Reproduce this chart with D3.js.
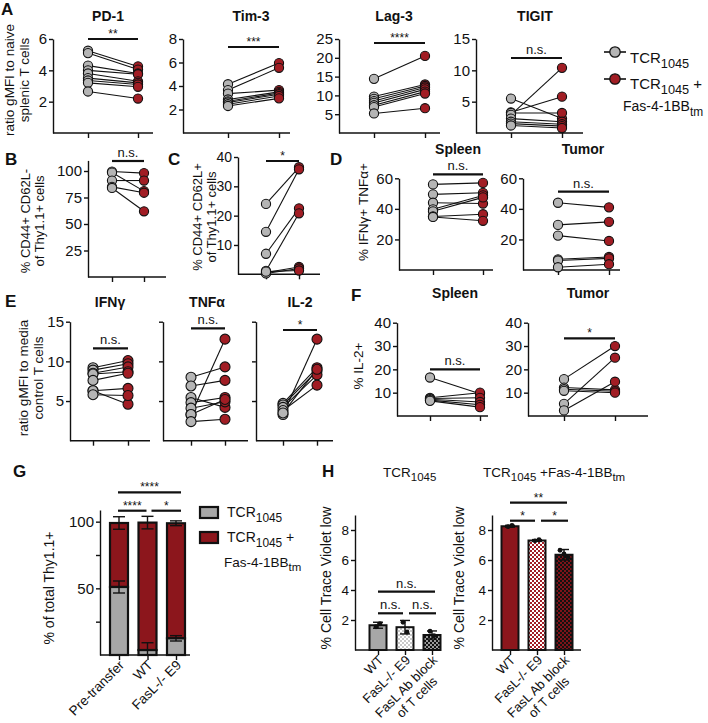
<!DOCTYPE html>
<html>
<head>
<meta charset="utf-8">
<script src="https://cdn.jsdelivr.net/npm/d3@7/dist/d3.min.js"></script>
<style>
  body { margin: 0; background: #fff; }
  svg text { font-family: "Liberation Sans", Arial, Helvetica, sans-serif; fill: #111; }
</style>
</head>
<body>
<svg id="fig" width="708" height="723"></svg>
<script>
// ---------- data ----------
const groups = ["TCR1045", "TCR1045+Fas-4-1BBtm"];

// A: ratio gMFI to naive splenic T cells
const aMarkers = ["PD-1", "Tim-3", "Lag-3", "TIGIT"];
const aMax = [6, 8, 25, 15];
const aTicks = [[2, 4, 6], [2, 4, 6, 8], [5, 10, 15, 20, 25], [5, 10, 15]];
const aSig = ["**", "***", "****", "n.s."];
const pd1Tcr = [5.25, 5.1, 4.3, 4.0, 3.8, 3.5, 3.35, 3.2, 2.65];
const pd1Fas = [4.25, 4.05, 3.8, 3.75, 3.3, 3.2, 3.1, 2.95, 2.2];
const tim3Tcr = [4.15, 3.65, 3.35, 2.85, 2.7, 2.6, 2.45, 2.3];
const tim3Fas = [5.95, 5.55, 3.65, 3.5, 3.4, 3.3, 3.15, 2.95];
const lag3Tcr = [14.4, 9.7, 9.1, 8.5, 8.0, 7.4, 6.9, 5.2];
const lag3Fas = [20.5, 12.9, 12.5, 12.1, 11.6, 11.0, 10.5, 6.6];
const tigitTcr = [5.5, 3.3, 3.2, 2.9, 2.3, 1.8, 1.5, 1.2];
const tigitFas = [2.3, 5.8, 3.2, 10.4, 1.8, 1.4, 1.1, 0.8];

// B, C: % of Thy1.1+ cells
const bTicks = [25, 50, 75, 100];
const bTcr = [99.5, 98.5, 91, 85, 84];
const bFas = [98, 81, 91, 79.5, 62];
const cTicks = [10, 20, 30, 40];
const cTcr = [24, 14.5, 7, 1.2, 0.6, 0.3, 0.9];
const cFas = [36.5, 35.8, 22.5, 20.8, 2.5, 2.0, 1.3];

// D: % IFNg+ TNFa+
const dTicks = [20, 40, 60];
const dSpleenTcr = [56, 49.5, 44, 39.7, 38.4, 35, 34.7];
const dSpleenFas = [57, 50.5, 43.5, 48.8, 47.5, 36.5, 32.2];
const dTumorTcr = [44, 29.5, 22.5, 7.0, 6.2, 1.8];
const dTumorFas = [41, 31.5, 19, 8.5, 7.6, 3.8];

// E: ratio gMFI to media control T cells
const eCytokines = ["IFNγ", "TNFα", "IL-2"];
const eTicks = [5, 10, 15];
const eSig = ["n.s.", "n.s.", "*"];
const ifngTcr = [9.2, 8.9, 8.5, 8.4, 7.6, 6.3, 6.3, 5.8];
const ifngFas = [10.1, 9.7, 9.3, 8.7, 8.5, 6.6, 4.6, 5.7];
const tnfaTcr = [8.0, 6.9, 5.45, 4.8, 4.1, 3.3, 3.3, 2.4];
const tnfaFas = [9.3, 7.6, 4.2, 5.45, 4.9, 12.8, 5.2, 2.7];
const il2Tcr = [4.7, 4.5, 4.2, 3.8, 3.3, 3.5];
const il2Fas = [9.2, 8.8, 8.3, 7.0, 12.8, 9.0];

// F: % IL-2+
const fTicks = [10, 20, 30, 40];
const fSpleenTcr = [16.5, 7.8, 7.5, 7.2, 6.8, 6.5];
const fSpleenFas = [9.5, 10.0, 7.8, 6.0, 4.8, 3.8];
const fTumorTcr = [15.8, 12.2, 11.5, 10.8, 5.2, 2.4];
const fTumorFas = [30, 11.2, 10.6, 10.0, 25, 14.7];

// G: % of total Thy1.1+
const gCats = ["Pre-transfer", "WT", "FasL-/- E9"];
const gTicks = [25, 50, 75, 100];
const gTcrMean = [51, 3.7, 12.5];
const gTcrSem = [4.5, 5.5, 2];
const gTotalMean = [99, 99.3, 98.8];
const gTotalSem = [4.7, 4.7, 1.8];
const gSig = [["Pre-transfer", "FasL-/- E9", "****"], ["Pre-transfer", "WT", "****"], ["WT", "FasL-/- E9", "*"]];

// H: % Cell Trace Violet low
const hCats = ["WT", "FasL-/- E9", "FasL Ab block\nof T cells"];
const hTicks = [2, 4, 6, 8];
const hTcrMean = [1.65, 1.52, 1.0];
const hTcrSd = [0.2, 0.45, 0.27];
const hTcrDots = [[1.55, 1.75], [1.85, 1.2], [1.25, 0.95]];
const hFasMean = [8.25, 7.3, 6.35];
const hFasSd = [0.06, 0.06, 0.35];
const hFasDots = [[8.22, 8.3], [7.28, 7.35], [6.65, 6.4, 6.15]];
const hTcrSig = ["n.s.", "n.s.", "n.s."];
const hFasSig = ["**", "*", "*"];

// ---------- drawing ----------
const svg = d3.select("#fig");
const GRAY = "#b5b5b5", RED = "#a11d24";
const BAR_GRAY = "#a7a7a7", BAR_RED = "#8c161c";
const INK = "#111";

function styleAxis(sel, size) {
  sel.selectAll("path, line").attr("stroke", INK).attr("stroke-width", 1.4);
  sel.selectAll("text").attr("font-size", size).attr("fill", "#222");
}

function label(x, y, s, opt = {}) {
  return svg.append("text").attr("x", x).attr("y", y)
    .attr("font-size", opt.size || 13)
    .attr("font-weight", opt.bold ? "bold" : null)
    .attr("text-anchor", opt.anchor || "middle")
    .text(s);
}

// text with subscripts: segments [{t, sub}]
function rich(x, y, segs, size, anchor) {
  const t = svg.append("text").attr("x", x).attr("y", y)
    .attr("font-size", size).attr("text-anchor", anchor || "start");
  let down = false;
  segs.forEach(s => {
    const dy = s.sub && !down ? size * 0.33 : (!s.sub && down ? -size * 0.33 : 0);
    t.append("tspan").attr("dy", dy).attr("font-size", s.sub ? size * 0.85 : size).text(s.t);
    down = !!s.sub;
  });
  return t;
}

function yTitle(x, y, lines, size, gap) {
  lines.forEach((s, i) => {
    svg.append("text")
      .attr("transform", `translate(${x + i * (gap || size * 1.08)},${y}) rotate(-90)`)
      .attr("text-anchor", "middle").attr("font-size", size).text(s);
  });
}

function sigBar(x1, x2, y, s, size) {
  svg.append("line").attr("x1", x1).attr("x2", x2).attr("y1", y).attr("y2", y)
    .attr("stroke", INK).attr("stroke-width", 2.2);
  const star = s !== "n.s.";
  label((x1 + x2) / 2, star ? y - 1 : y - 4, s, { size: size || (star ? 12 : 13) });
}

function pairPlot(L, d) {
  const y = d3.scaleLinear().domain([0, d.max]).range([L.bottom, L.top]);
  const x = d3.scalePoint().domain(groups).range([L.xa, L.xb]);
  const g = svg.append("g");
  g.append("g").attr("transform", `translate(${L.ax},0)`)
    .call(d3.axisLeft(y).tickValues(d.ticks).tickSize(4).tickSizeOuter(0).tickPadding(2)
      .tickFormat(L.noLabels ? "" : d3.format("d")))
    .call(styleAxis, L.tick || 15);
  g.append("line").attr("x1", L.ax).attr("x2", L.right).attr("y1", L.bottom).attr("y2", L.bottom)
    .attr("stroke", INK).attr("stroke-width", 1.4);
  g.append("g").attr("transform", `translate(0,${L.bottom})`)
    .call(d3.axisBottom(x).tickSize(5).tickFormat(""))
    .call(a => a.select(".domain").remove())
    .call(styleAxis, 10);

  const pairs = d.tcr.map((v, i) => ({ a: v, b: d.fas[i] }));
  g.selectAll("line.pair").data(pairs).join("line").attr("class", "pair")
    .attr("x1", x(groups[0])).attr("x2", x(groups[1]))
    .attr("y1", p => y(p.a)).attr("y2", p => y(p.b))
    .attr("stroke", INK).attr("stroke-width", 1.1);
  const pts = pairs.flatMap(p => [{ k: 0, v: p.a }, { k: 1, v: p.b }]);
  g.selectAll("circle").data(pts).join("circle")
    .attr("cx", p => x(groups[p.k])).attr("cy", p => y(p.v)).attr("r", L.r || 4.6)
    .attr("fill", p => p.k ? RED : GRAY).attr("stroke", INK).attr("stroke-width", 1.1);

  sigBar(x(groups[0]), x(groups[1]), L.sigY, d.sig);
  if (d.title) label(L.tx, L.ty, d.title, { size: 14, bold: true });
}

// panel letters
[["A", 1, 15], ["B", 5, 165], ["C", 168, 165], ["D", 330, 165], ["E", 5, 307],
 ["F", 351, 301], ["G", 13, 477], ["H", 322, 477]]
  .forEach(([s, x, y]) => label(x, y, s, { size: 17, bold: true, anchor: "start" }));

// ----- A -----
const aLayout = [
  { ax: 53, right: 153, xa: 88, xb: 138, sigY: 39, tx: 108 },
  { ax: 183, right: 290, xa: 228, xb: 279, sigY: 47, tx: 251 },
  { ax: 339, right: 440, xa: 374, xb: 425, sigY: 43, tx: 394 },
  { ax: 476, right: 583, xa: 511, xb: 562, sigY: 58, tx: 535 }
];
const aTcr = [pd1Tcr, tim3Tcr, lag3Tcr, tigitTcr];
const aFas = [pd1Fas, tim3Fas, lag3Fas, tigitFas];
aLayout.forEach((L, i) => pairPlot(Object.assign({ top: 39, bottom: 133, ty: 21 }, L),
  { max: aMax[i], ticks: aTicks[i], tcr: aTcr[i], fas: aFas[i], sig: aSig[i], title: aMarkers[i] }));
yTitle(14, 80, ["ratio gMFI to naive", "splenic T cells"], 13.5);

// legend A
[[GRAY, 52], [RED, 79]].forEach(([c, y]) => {
  svg.append("line").attr("x1", 604).attr("x2", 626).attr("y1", y).attr("y2", y)
    .attr("stroke", INK).attr("stroke-width", 1.6);
  svg.append("circle").attr("cx", 615).attr("cy", y).attr("r", 5.2)
    .attr("fill", c).attr("stroke", INK).attr("stroke-width", 1.3);
});
rich(630, 63, [{ t: "TCR" }, { t: "1045", sub: true }], 15);
rich(630, 89, [{ t: "TCR" }, { t: "1045", sub: true }, { t: " +" }], 15);
rich(623, 111, [{ t: "Fas-4-1BB" }, { t: "tm", sub: true }], 14);

// ----- B, C -----
pairPlot({ ax: 88, right: 166, xa: 112, xb: 144, top: 160.4, bottom: 277, sigY: 161 },
  { max: 110, ticks: bTicks, tcr: bTcr, fas: bFas, sig: "n.s." });
yTitle(30, 221, ["% CD44+ CD62L-", "of Thy1.1+ cells"], 13, 13.5);
pairPlot({ ax: 238, right: 320, xa: 266, xb: 299, top: 157, bottom: 274.3, sigY: 161, tick: 14 },
  { max: 40, ticks: cTicks, tcr: cTcr, fas: cFas, sig: "*" });
yTitle(202, 217, ["% CD44+ CD62L+", "of Thy1.1+ cells"], 13, 13.5);

// ----- D -----
pairPlot({ ax: 399, right: 493, xa: 433, xb: 483, top: 178.3, bottom: 270, sigY: 174.3, tx: 458, ty: 154 },
  { max: 60, ticks: dTicks, tcr: dSpleenTcr, fas: dSpleenFas, sig: "n.s.", title: "Spleen" });
pairPlot({ ax: 523, right: 620, xa: 558, xb: 609, top: 178.3, bottom: 270, sigY: 191.7, tx: 583, ty: 154 },
  { max: 60, ticks: dTicks, tcr: dTumorTcr, fas: dTumorFas, sig: "n.s.", title: "Tumor" });
yTitle(368, 212, ["% IFNγ+ TNFα+"], 13.5);

// ----- E -----
const eLayout = [
  { ax: 70, right: 150, xa: 93, xb: 128, sigY: 348.3, tx: 110 },
  { ax: 163, right: 248, xa: 191, xb: 225, sigY: 328.3, tx: 207, noLabels: true },
  { ax: 256, right: 333, xa: 283, xb: 317, sigY: 330, tx: 300, noLabels: true }
];
const eTcr = [ifngTcr, tnfaTcr, il2Tcr];
const eFas = [ifngFas, tnfaFas, il2Fas];
eLayout.forEach((L, i) => pairPlot(Object.assign({ top: 321.7, bottom: 440.7, ty: 307, r: 5 }, L),
  { max: 15, ticks: eTicks, tcr: eTcr[i], fas: eFas[i], sig: eSig[i], title: eCytokines[i] }));
yTitle(28, 378, ["ratio gMFI to media", "control T cells"], 13.5);

// ----- F -----
pairPlot({ ax: 397, right: 488, xa: 430, xb: 480, top: 322.7, bottom: 416, sigY: 369.3, tx: 455, ty: 298 },
  { max: 40, ticks: fTicks, tcr: fSpleenTcr, fas: fSpleenFas, sig: "n.s.", title: "Spleen" });
pairPlot({ ax: 528, right: 648, xa: 564, xb: 615, top: 322.7, bottom: 416, sigY: 338.3, tx: 588, ty: 298 },
  { max: 40, ticks: fTicks, tcr: fTumorTcr, fas: fTumorFas, sig: "*", title: "Tumor" });
yTitle(363, 366, ["% IL-2+"], 13.5);

// rotated category labels (second line centred under the first)
function rotLabels(xs, cats, y, size) {
  cats.forEach(c => {
    const lines = c.split("\n");
    const g = svg.append("g").attr("transform", `translate(${xs(c) + 6},${y}) rotate(-45)`);
    const t1 = g.append("text").attr("text-anchor", "end").attr("font-size", size).text(lines[0]);
    if (lines[1]) {
      const w = t1.node().getComputedTextLength();
      g.append("text").attr("x", -w / 2).attr("y", size * 1.15).attr("text-anchor", "middle")
        .attr("font-size", size).text(lines[1]);
    }
  });
}

function errBar(x, y, lo, hi, cap) {
  svg.append("line").attr("x1", x).attr("x2", x).attr("y1", y(lo)).attr("y2", y(hi))
    .attr("stroke", INK).attr("stroke-width", 1.4);
  [lo, hi].forEach(v => svg.append("line").attr("x1", x - cap / 2).attr("x2", x + cap / 2)
    .attr("y1", y(v)).attr("y2", y(v)).attr("stroke", INK).attr("stroke-width", 1.4));
}

// ----- G -----
{
  const y = d3.scaleLinear().domain([0, 108.75]).range([655, 510]);
  const x = d3.scalePoint().domain(gCats).range([119, 176]);
  const bw = 18;
  svg.append("g").attr("transform", "translate(100,0)")
    .call(d3.axisLeft(y).tickValues(gTicks).tickSize(4).tickSizeOuter(0).tickPadding(2)
      .tickFormat(v => v % 50 === 0 ? v : ""))
    .call(styleAxis, 15);
  svg.append("line").attr("x1", 100).attr("x2", 190).attr("y1", 655).attr("y2", 655)
    .attr("stroke", INK).attr("stroke-width", 1.4);
  svg.append("g").attr("transform", "translate(0,655)")
    .call(d3.axisBottom(x).tickSize(5).tickFormat(""))
    .call(a => a.select(".domain").remove()).call(styleAxis, 10);
  gCats.forEach((c, i) => {
    svg.append("rect").attr("x", x(c) - bw / 2).attr("width", bw)
      .attr("y", y(gTotalMean[i])).attr("height", y(gTcrMean[i]) - y(gTotalMean[i]))
      .attr("fill", BAR_RED).attr("stroke", INK).attr("stroke-width", 2.2);
    svg.append("rect").attr("x", x(c) - bw / 2).attr("width", bw)
      .attr("y", y(gTcrMean[i])).attr("height", y(0) - y(gTcrMean[i]))
      .attr("fill", BAR_GRAY).attr("stroke", INK).attr("stroke-width", 2.2);
    errBar(x(c), y, gTotalMean[i] - gTotalSem[i], gTotalMean[i] + gTotalSem[i], 12);
    errBar(x(c), y, Math.max(0, gTcrMean[i] - gTcrSem[i]), gTcrMean[i] + gTcrSem[i], 12);
  });
  const rows = [492.3, 510.7, 510.7];
  gSig.forEach(([a, b, s], k) => {
    const ia = gCats.indexOf(a), ib = gCats.indexOf(b);
    const x1 = x(a) + (ib - ia === 1 && ia === 1 ? 4 : -1);
    const x2 = x(b) + (ib - ia === 1 && ia === 0 ? -1 : 5);
    sigBar(x1, x2, rows[k], s, 12);
  });
  rotLabels(x, gCats, 666, 13.5);
  yTitle(54, 588, ["% of total Thy1.1+"], 14);

  // legend
  [[BAR_GRAY, 507], [BAR_RED, 532]].forEach(([c, yy]) =>
    svg.append("rect").attr("x", 200).attr("y", yy).attr("width", 18).attr("height", 11)
      .attr("fill", c).attr("stroke", INK).attr("stroke-width", 2.2));
  rich(227, 517, [{ t: "TCR" }, { t: "1045", sub: true }], 14);
  rich(227, 542, [{ t: "TCR" }, { t: "1045", sub: true }, { t: " +" }], 14);
  rich(224, 567, [{ t: "Fas-4-1BB" }, { t: "tm", sub: true }], 13.5);
}

// ----- H -----
const defs = svg.append("defs");
function checker(id, a, b) {
  const p = defs.append("pattern").attr("id", id).attr("width", 4).attr("height", 4)
    .attr("patternUnits", "userSpaceOnUse");
  p.append("rect").attr("width", 4).attr("height", 4).attr("fill", b);
  p.append("rect").attr("width", 2).attr("height", 2).attr("fill", a);
  p.append("rect").attr("x", 2).attr("y", 2).attr("width", 2).attr("height", 2).attr("fill", a);
}
checker("chkLight", "#c9c9c9", "#ffffff");
checker("chkDark", "#111111", "#9a9a9a");
checker("chkPink", "#a11d24", "#ffffff");
checker("chkDarkRed", "#111111", "#7d1318");

function hPanel(L, means, sds, dots, fills, sig) {
  const y = d3.scaleLinear().domain([0, 9]).range([650, 515]);
  const x = d3.scalePoint().domain(hCats).range([L.x0, L.x0 + 54]);
  const bw = 17;
  svg.append("g").attr("transform", `translate(${L.ax},0)`)
    .call(d3.axisLeft(y).tickValues(hTicks).tickSize(4).tickSizeOuter(0).tickPadding(2))
    .call(styleAxis, 13.5);
  svg.append("line").attr("x1", L.ax).attr("x2", L.right).attr("y1", 650).attr("y2", 650)
    .attr("stroke", INK).attr("stroke-width", 1.4);
  svg.append("g").attr("transform", "translate(0,650)")
    .call(d3.axisBottom(x).tickSize(5).tickFormat(""))
    .call(a => a.select(".domain").remove()).call(styleAxis, 10);
  hCats.forEach((c, i) => {
    svg.append("rect").attr("x", x(c) - bw / 2).attr("width", bw)
      .attr("y", y(means[i])).attr("height", y(0) - y(means[i]))
      .attr("fill", fills[i]).attr("stroke", INK).attr("stroke-width", 2);
    errBar(x(c), y, means[i] - sds[i], means[i] + sds[i], 10);
    dots[i].forEach((v, j) => svg.append("circle")
      .attr("cx", x(c) + (j - (dots[i].length - 1) / 2) * 4).attr("cy", y(v)).attr("r", 2.4)
      .attr("fill", INK));
  });
  const [c0, c1, c2] = hCats;
  sigBar(x(c0), x(c2) + 3, L.sig[0], sig[0]);
  sigBar(x(c0), x(c1) - 2, L.sig[1], sig[1]);
  sigBar(x(c1) + 4, x(c2) + 4, L.sig[1], sig[2]);
  rotLabels(x, hCats, 661, 13);
}
hPanel({ ax: 355, right: 441, x0: 378, sig: [591.7, 613.3] }, hTcrMean, hTcrSd, hTcrDots,
  [BAR_GRAY, "url(#chkLight)", "url(#chkDark)"], hTcrSig);
hPanel({ ax: 492, right: 581, x0: 510, sig: [502.7, 520.7] }, hFasMean, hFasSd, hFasDots,
  [BAR_RED, "url(#chkPink)", "url(#chkDarkRed)"], hFasSig);
yTitle(331, 578, ["% Cell Trace Violet low"], 14);
yTitle(464, 578, ["% Cell Trace Violet low"], 14);
rich(383, 477, [{ t: "TCR" }, { t: "1045", sub: true }], 13.5);
rich(483, 477, [{ t: "TCR" }, { t: "1045", sub: true }, { t: " +Fas-4-1BB" }, { t: "tm", sub: true }], 13.5);
</script>
</body>
</html>
